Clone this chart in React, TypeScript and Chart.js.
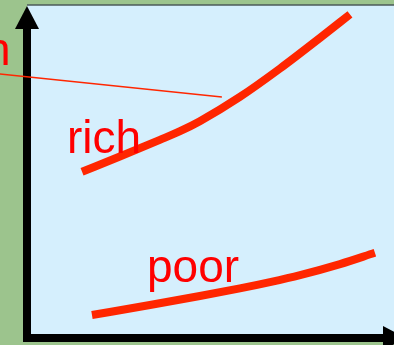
import React, { useEffect, useRef } from 'react';
import { Chart, registerables } from 'chart.js';

Chart.register(...registerables);

// Axis ranges (abstract units)
const X_MIN = 0;
const X_MAX = 10;
const Y_MIN = 0;
const Y_MAX = 10;

// "rich" curve
const richX = [1.5, 2.53, 3.62, 4.17, 4.71, 5.8, 6.89, 7.98, 8.8];
const richY = [4.99, 5.45, 5.95, 6.21, 6.51, 7.24, 8.09, 9.01, 9.72];

// "poor" curve
const poorX = [1.77, 3.35, 4.71, 5.8, 6.62, 7.44, 8.53, 9.48];
const poorY = [0.69, 0.99, 1.26, 1.49, 1.68, 1.89, 2.22, 2.56];

// thin pointer line from the (cut-off) caption to the rich curve
const pointerX = [-0.74, 5.31];
const pointerY = [7.93, 7.24];

// text labels
const labelTexts = ['rich', 'poor', 'h'];
const labelX = [1.09, 3.27, -0.45];
const labelY = [5.56, 1.68, 8.2];
const labelAlign: CanvasTextAlign[] = ['left', 'left', 'right'];

const GREEN = '#9cc48d';
const BLUE = '#d5effd';
const CURVE = '#ff2600';
const TEXT = '#ff0000';

const toPts = (xs: number[], ys: number[]) => xs.map((x, i) => ({ x, y: ys[i] }));

const backdropPlugin = {
  id: 'backdrop',
  beforeDraw(chart: any) {
    const { ctx, width, height, chartArea } = chart;
    ctx.save();
    ctx.fillStyle = GREEN;
    ctx.fillRect(0, 0, width, height);
    ctx.fillStyle = BLUE;
    ctx.fillRect(chartArea.left, chartArea.top, width - chartArea.left, chartArea.bottom - chartArea.top);
    ctx.strokeStyle = '#4b5a58';
    ctx.lineWidth = 1.5;
    ctx.beginPath();
    ctx.moveTo(chartArea.left, chartArea.top);
    ctx.lineTo(width, chartArea.top);
    ctx.stroke();
    ctx.restore();
  },
  beforeDatasetsDraw(chart: any) {
    const { ctx, chartArea } = chart;
    const { left, top, bottom, right } = chartArea;
    ctx.save();
    ctx.fillStyle = '#000000';
    const half = 4;
    const arrowLen = 23;
    const arrowHalf = 12;
    // y axis
    ctx.fillRect(left - half, top + arrowLen, half * 2, bottom + half - (top + arrowLen));
    ctx.beginPath();
    ctx.moveTo(left, top + 1);
    ctx.lineTo(left - arrowHalf, top + arrowLen + 1);
    ctx.lineTo(left + arrowHalf, top + arrowLen + 1);
    ctx.closePath();
    ctx.fill();
    // x axis
    const xBase = right - 11;
    ctx.fillRect(left - half, bottom - half, xBase - (left - half), half * 2);
    ctx.beginPath();
    ctx.moveTo(xBase, bottom - arrowHalf);
    ctx.lineTo(xBase + arrowLen, bottom);
    ctx.lineTo(xBase, bottom + arrowHalf);
    ctx.closePath();
    ctx.fill();
    ctx.restore();
  },
  afterDatasetsDraw(chart: any) {
    const { ctx } = chart;
    const xs = chart.scales.x;
    const ys = chart.scales.y;
    ctx.save();
    ctx.fillStyle = TEXT;
    ctx.font = '46px "Liberation Sans", Arial, sans-serif';
    ctx.textBaseline = 'alphabetic';
    labelTexts.forEach((t, i) => {
      ctx.textAlign = labelAlign[i];
      ctx.fillText(t, xs.getPixelForValue(labelX[i]), ys.getPixelForValue(labelY[i]));
    });
    ctx.restore();
  },
};

export default function App() {
  const ref = useRef<HTMLCanvasElement | null>(null);
  useEffect(() => {
    if (!ref.current) return;
    const chart = new Chart(ref.current, {
      type: 'line',
      data: {
        datasets: [
          {
            label: 'rich',
            data: toPts(richX, richY),
            borderColor: CURVE,
            borderWidth: 8,
            borderCapStyle: 'butt',
            borderJoinStyle: 'round',
            pointRadius: 0,
            cubicInterpolationMode: 'monotone',
            fill: false,
          },
          {
            label: 'poor',
            data: toPts(poorX, poorY),
            borderColor: CURVE,
            borderWidth: 8,
            borderCapStyle: 'butt',
            borderJoinStyle: 'round',
            pointRadius: 0,
            cubicInterpolationMode: 'monotone',
            fill: false,
          },
          {
            label: 'pointer',
            data: toPts(pointerX, pointerY),
            borderColor: CURVE,
            borderWidth: 1.5,
            pointRadius: 0,
            tension: 0,
            fill: false,
            clip: false,
          } as any,
        ],
      },
      options: {
        responsive: false,
        animation: false,
        devicePixelRatio: 1,
        layout: { padding: { left: 27, top: 5, right: 0, bottom: 7 } },
        plugins: { legend: { display: false }, tooltip: { enabled: false } },
        scales: {
          x: { type: 'linear', min: X_MIN, max: X_MAX, display: false },
          y: { type: 'linear', min: Y_MIN, max: Y_MAX, display: false },
        },
      },
      plugins: [backdropPlugin],
    });
    return () => chart.destroy();
  }, []);
  return (
    <div style={{ position: 'fixed', left: 0, top: 0, width: 394, height: 345 }}>
      <canvas ref={ref} width={394} height={345} style={{ display: 'block' }} />
    </div>
  );
}
